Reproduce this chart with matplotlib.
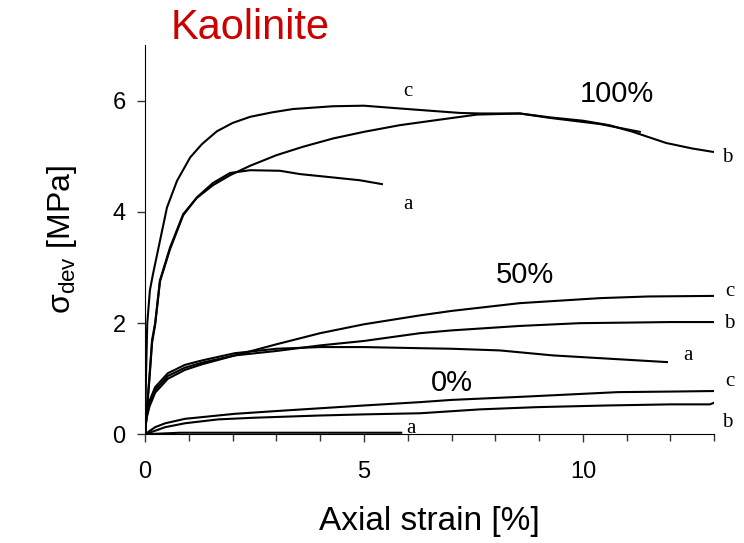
import matplotlib
matplotlib.use("Agg")
import matplotlib.pyplot as plt
from matplotlib.ticker import MultipleLocator

plt.rcParams['font.family'] = ['Liberation Sans', 'DejaVu Sans']
plt.rcParams['mathtext.fontset'] = 'custom'
plt.rcParams['mathtext.rm'] = 'Liberation Sans'
plt.rcParams['mathtext.it'] = 'Liberation Sans:italic'

# ---- data (axial strain %, deviatoric stress MPa) ----
x100a = [0, 0.05, 0.1, 0.16, 0.23, 0.34, 0.57, 0.87, 1.18, 1.55, 1.94, 2.4, 3.08, 3.54, 4.29, 4.9, 5.41]
y100a = [0, 0.5, 1.0, 1.65, 1.97, 2.75, 3.33, 3.94, 4.26, 4.52, 4.7, 4.75, 4.74, 4.68, 4.62, 4.57, 4.5]
x100b = [0, 0.05, 0.1, 0.16, 0.23, 0.34, 0.57, 0.87, 1.18, 1.55, 1.94, 2.4, 3.0, 3.6, 4.29,
         5.0, 5.82, 6.74, 7.58, 8.56, 9.25, 10.0, 10.6, 11.14, 11.9, 12.5, 12.97]
y100b = [0, 0.55, 1.05, 1.7, 2.0, 2.77, 3.36, 3.96, 4.25, 4.48, 4.66, 4.83, 5.02, 5.17, 5.32,
         5.44, 5.56, 5.66, 5.75, 5.77, 5.70, 5.64, 5.56, 5.44, 5.24, 5.14, 5.08]
x100c = [0, 0.02, 0.05, 0.11, 0.18, 0.34, 0.5, 0.73, 1.03, 1.3, 1.64, 2.0, 2.4, 2.9, 3.38, 4.29,
         5.0, 5.82, 6.5, 7.19, 7.65, 8.56, 9.25, 10.39, 11.3]
y100c = [0, 1.0, 2.0, 2.59, 2.88, 3.48, 4.08, 4.56, 4.98, 5.22, 5.45, 5.6, 5.71, 5.79, 5.85, 5.9,
         5.91, 5.86, 5.82, 5.78, 5.77, 5.77, 5.69, 5.58, 5.44]

x50a = [0, 0.03, 0.1, 0.23, 0.52, 0.91, 1.3, 2.05, 3.0, 4.0, 5.0, 6.28, 7.0, 8.1, 9.32, 10.84, 11.92]
y50a = [0, 0.35, 0.6, 0.85, 1.1, 1.25, 1.33, 1.46, 1.54, 1.57, 1.57, 1.55, 1.54, 1.51, 1.42, 1.35, 1.30]
x50b = [0, 0.03, 0.1, 0.23, 0.52, 0.91, 1.3, 2.05, 3.0, 4.0, 5.0, 6.28, 7.0, 8.56, 9.93, 11.0, 12.0, 12.97]
y50b = [0, 0.3, 0.55, 0.8, 1.05, 1.2, 1.29, 1.42, 1.5, 1.6, 1.68, 1.82, 1.87, 1.95, 2.0, 2.01, 2.02, 2.02]
x50c = [0, 0.03, 0.1, 0.23, 0.52, 0.91, 1.3, 2.05, 3.0, 4.0, 5.0, 6.28, 7.0, 8.56, 10.39, 11.5, 12.97]
y50c = [0, 0.28, 0.5, 0.75, 1.0, 1.16, 1.26, 1.42, 1.62, 1.82, 1.98, 2.14, 2.22, 2.36, 2.45, 2.48, 2.49]

x0a = [0, 0.2, 0.8, 3.0, 5.85]
y0a = [0, 0.01, 0.03, 0.03, 0.03]
x0b = [0, 0.1, 0.46, 0.91, 1.67, 2.5, 4.0, 5.0, 6.28, 7.65, 8.95, 10.55, 12.0, 12.9, 13.0]
y0b = [0, 0.03, 0.13, 0.2, 0.27, 0.3, 0.34, 0.36, 0.38, 0.45, 0.49, 0.52, 0.54, 0.54, 0.57]
x0c = [0, 0.1, 0.23, 0.46, 0.91, 2.05, 3.0, 4.0, 5.0, 6.28, 7.0, 8.7, 10.8, 12.0, 13.0]
y0c = [0, 0.06, 0.13, 0.2, 0.28, 0.37, 0.42, 0.47, 0.52, 0.58, 0.62, 0.68, 0.76, 0.77, 0.78]

curves = [(x100a, y100a), (x100b, y100b), (x100c, y100c),
          (x50a, y50a), (x50b, y50b), (x50c, y50c),
          (x0a, y0a), (x0b, y0b), (x0c, y0c)]

# curve letter labels: (text, x, y)
letters = [("c", 6.0, 6.17), ("a", 6.0, 4.14), ("b", 13.3, 4.98),
           ("c", 13.35, 2.57), ("b", 13.35, 2.0), ("a", 12.4, 1.42),
           ("c", 13.35, 0.95), ("b", 13.3, 0.22), ("a", 6.07, 0.1)]
groups = [("100%", 10.78, 6.12), ("50%", 8.68, 2.86), ("0%", 7.0, 0.92)]

fig = plt.figure(figsize=(7.44, 5.43), dpi=100)
ax = fig.add_axes([0.195, 0.2, 0.765, 0.717])

for xs, ys in curves:
    ax.plot(xs, ys, color='black', lw=1.5)

for t, x, y in letters:
    ax.text(x, y, t, family='Liberation Serif', fontsize=15, ha='center', va='center')
for t, x, y in groups:
    ax.text(x, y, t, fontsize=21, ha='center', va='center')

ax.set_xlim(0, 13)
ax.set_ylim(0, 7)
ax.spines['top'].set_visible(False)
ax.spines['right'].set_visible(False)
ax.xaxis.set_major_locator(MultipleLocator(5))
ax.xaxis.set_minor_locator(MultipleLocator(1))
ax.set_yticks([0, 2, 4, 6])
ax.tick_params(axis='both', which='major', direction='out', length=6, width=1,
               labelsize=17, color='#333333')
ax.tick_params(axis='x', which='minor', direction='out', length=5, width=1, color='#333333')
ax.tick_params(axis='x', pad=13)
ax.tick_params(axis='y', pad=8)

ax.set_xlabel("Axial strain [%]", fontsize=24, labelpad=17)
ax.set_ylabel(r"σ$_{\mathrm{dev}}$ [MPa]", fontsize=23, labelpad=24)
fig.text(250 / 744, 1 - 28 / 543, "Kaolinite", color='#CC0000', fontsize=30,
         ha='center', va='center')

fig.savefig("out.png", dpi=100)
